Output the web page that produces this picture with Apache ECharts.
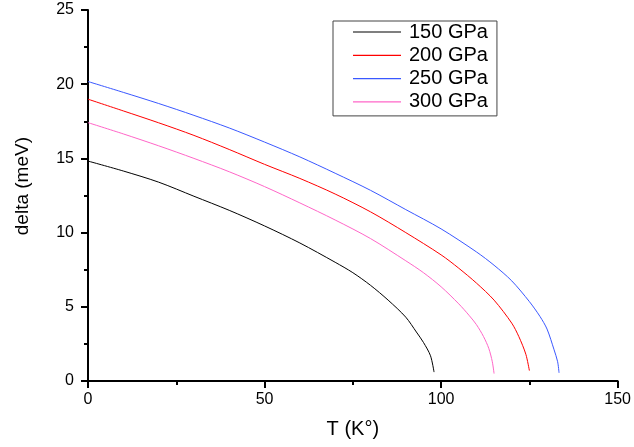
<!DOCTYPE html>
<html>
<head>
<meta charset="utf-8">
<script src="https://cdn.jsdelivr.net/npm/echarts@6/dist/echarts.min.js"></script>
<style>
html,body{margin:0;padding:0;background:#fff;}
#chart{width:634px;height:447px;}
</style>
</head>
<body>
<div id="chart"></div>
<script>
const seriesNames = ['150 GPa', '200 GPa', '250 GPa', '300 GPa'];
const T_150 = [0,10,20,30,40,50,60,70,75,80,85,90,93,95,97,98];
const D_150 = [14.82,14.15,13.4,12.45,11.5,10.45,9.3,8.0,7.3,6.45,5.45,4.3,3.3,2.6,1.7,0.6];
const T_200 = [0,10,20,30,40,50,60,70,80,90,100,105,110,115,120,122,124,125];
const D_200 = [18.99,18.2,17.4,16.55,15.6,14.6,13.65,12.6,11.4,10.0,8.5,7.6,6.6,5.45,3.9,3.0,1.8,0.7];
const T_250 = [0,10,20,30,40,50,60,70,80,90,100,110,115,120,125,128,130,132,133,133.4];
const D_250 = [20.18,19.45,18.7,17.9,17.05,16.1,15.1,14.0,12.85,11.55,10.25,8.7,7.8,6.75,5.35,4.35,3.5,2.1,1.3,0.55];
const T_300 = [0,10,20,30,40,50,60,70,80,90,95,100,105,108,110,112,113.5,114.5,115];
const D_300 = [17.41,16.65,15.85,15.0,14.1,13.1,12.0,10.85,9.6,8.1,7.3,6.35,5.2,4.4,3.8,3.0,2.2,1.3,0.5];
const xTicks = [0, 50, 100, 150];
const yTicks = [0, 5, 10, 15, 20, 25];
const xTitle = 'T (K°)';
const yTitle = 'delta (meV)';

const colors = ['#000000', '#ff0000', '#3a58ff', '#ff66c8'];
const pairs = [[T_150, D_150], [T_200, D_200], [T_250, D_250], [T_300, D_300]];
const FONT = '"Liberation Sans", Arial, sans-serif';

const chart = echarts.init(document.getElementById('chart'), null, {renderer: 'canvas'});
chart.setOption({
  animation: false,
  backgroundColor: '#ffffff',
  grid: {left: 88, right: 16, top: 10, bottom: 66, containLabel: false},
  graphic: [{
    type: 'text', left: 13, top: 137, rotation: Math.PI / 2,
    style: {text: yTitle, fontFamily: FONT, fontSize: 19, fill: '#000'}
  }],
  xAxis: {
    type: 'value', min: xTicks[0], max: xTicks[xTicks.length - 1], interval: 50,
    name: xTitle, nameLocation: 'middle', nameGap: 38,
    nameTextStyle: {fontFamily: FONT, fontSize: 20, color: '#000'},
    axisLine: {show: true, onZero: false, lineStyle: {color: '#000', width: 2}},
    axisTick: {show: true, length: 7, lineStyle: {color: '#000', width: 2}},
    minorTick: {show: true, splitNumber: 2, length: 4, lineStyle: {color: '#000', width: 2}},
    axisLabel: {fontFamily: FONT, fontSize: 16, color: '#000', margin: 11},
    splitLine: {show: false}
  },
  yAxis: {
    type: 'value', min: yTicks[0], max: yTicks[yTicks.length - 1], interval: 5,
    axisLine: {show: true, onZero: false, lineStyle: {color: '#000', width: 2}},
    axisTick: {show: true, length: 7, lineStyle: {color: '#000', width: 2}},
    minorTick: {show: true, splitNumber: 2, length: 4, lineStyle: {color: '#000', width: 2}},
    axisLabel: {fontFamily: FONT, fontSize: 16, color: '#000', margin: 14},
    splitLine: {show: false}
  },
  legend: {
    orient: 'vertical', left: 333, top: 21,
    padding: [1, 9, 4, 20],
    icon: 'rect',
    itemWidth: 48, itemHeight: 1.2, itemGap: 3.3,
    borderColor: '#444', borderWidth: 1, backgroundColor: '#fff',
    textStyle: {fontFamily: FONT, fontSize: 20, color: '#000', lineHeight: 20, padding: [0, 0, 0, 3]},
    data: seriesNames
  },
  series: pairs.map((p, i) => ({
    name: seriesNames[i],
    type: 'line',
    data: p[0].map((t, k) => [t, p[1][k]]),
    symbol: 'none', showSymbol: false,
    smooth: 0.3,
    lineStyle: {color: colors[i], width: 1},
    itemStyle: {color: colors[i]}
  }))
});
</script>
</body>
</html>
